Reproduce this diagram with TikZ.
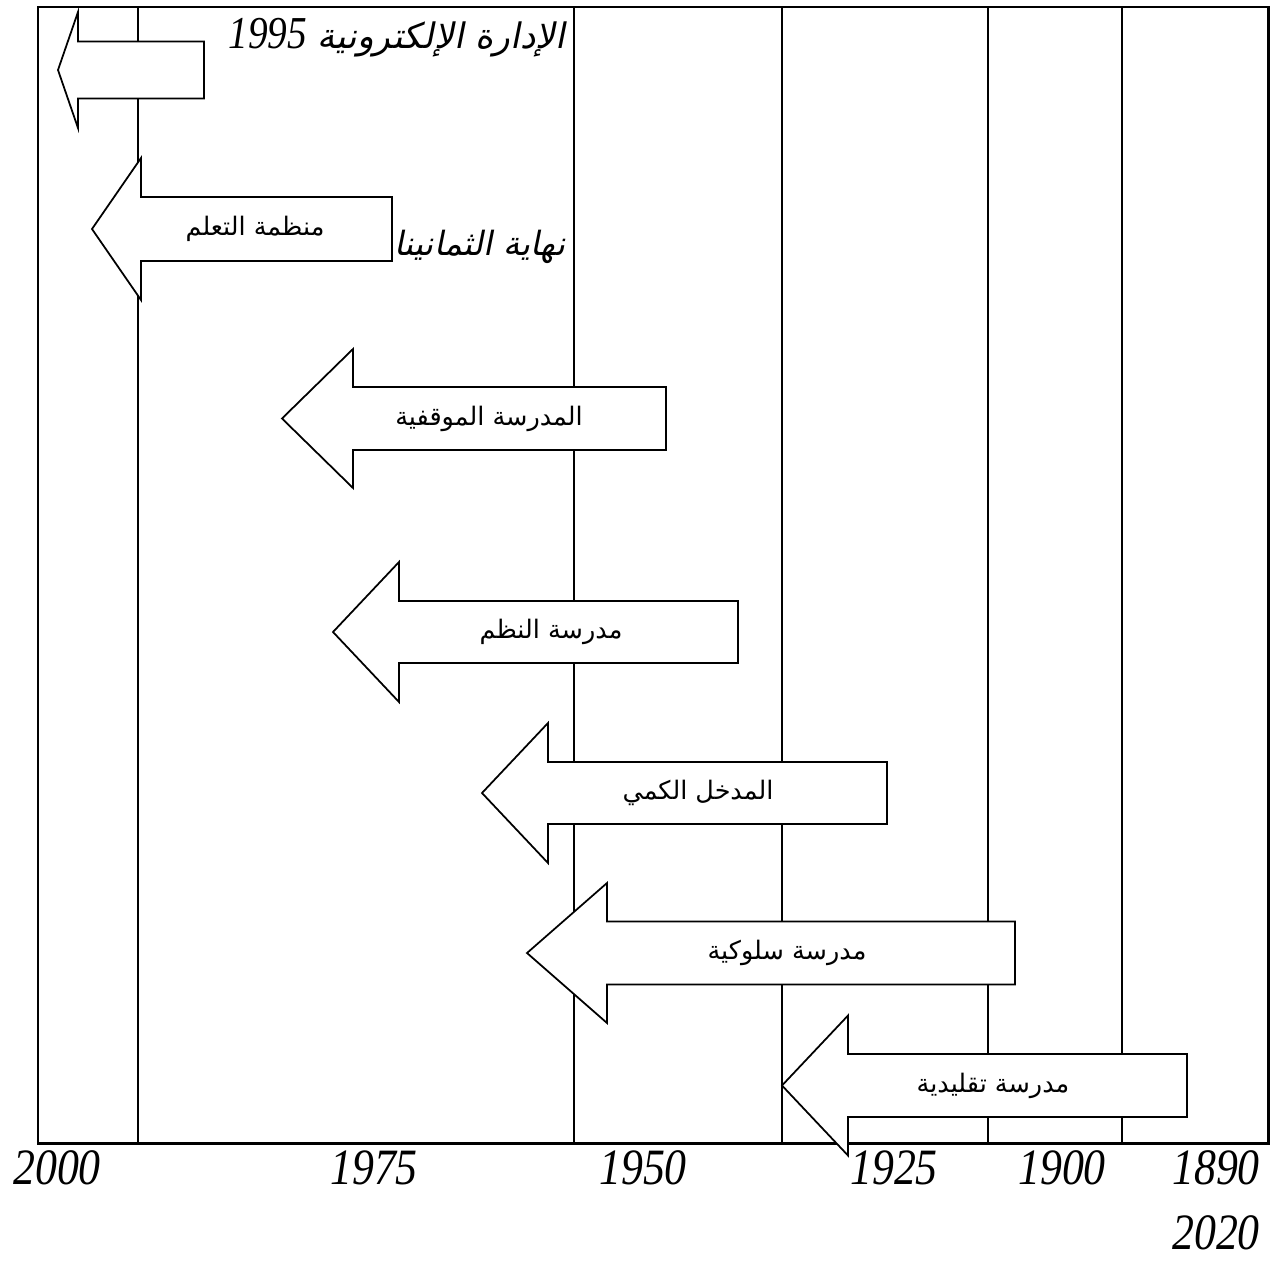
\documentclass[tikz,border=0pt]{standalone}
\usepackage{fontspec}
\TeXXeTstate=1
\newfontfamily\arabicfont[Script=Arabic]{DejaVu Sans}
\newfontfamily\arabicit[Script=Arabic,FakeSlant=0.2]{DejaVu Sans}
\newfontfamily\yearfont[FakeStretch=0.86]{Liberation Serif}
\tikzset{
  frameline/.style={line width=1.7pt},
  gridline/.style={line width=1.1pt},
  arrowbox/.style={draw=black, fill=white, line width=1pt, line join=miter},
  arrowlabel/.style={inner sep=0pt, font=\fontsize{14.5}{17}\selectfont\arabicfont},
  yearlabel/.style={inner sep=0pt, anchor=base, font=\fontsize{29}{34}\selectfont\yearfont\itshape},
  titlelabel/.style={inner sep=0pt, anchor=base east},
}
\newcommand\blkarrow[9]{%
  \draw[arrowbox] (#2,#5) -- (#3,#5-#6) -- (#3,#5-#7) -- (#4,#5-#7) -- (#4,#5+#7)
     -- (#3,#5+#7) -- (#3,#5+#6) -- cycle;
  \node[arrowlabel] (#1) at (#8,#5) {#9};
}
\begin{document}
\begin{tikzpicture}[x=0.02cm, y=-0.02cm]
\useasboundingbox (0,0) rectangle (1271,1261);
% frame and period lines
\draw[frameline] (38,7) rectangle (1268,1143);
\foreach \xx/\nm in {138/v1,574/v2,782/v3,988/v4,1122/v5}{
  \coordinate (\nm t) at (\xx,7);
  \coordinate (\nm b) at (\xx,1143);
  \draw[gridline] (\nm t) -- (\nm b);
}
% italic captions
\node[titlelabel] (t1995) at (566,49) {{\fontsize{26}{30}\selectfont\yearfont\itshape 1995}\hspace{6pt}{\fontsize{20}{24}\selectfont\arabicit\beginR الإدارة الإلكترونية\endR}};
\node[titlelabel] (t80s) at (566,255) {\fontsize{19}{23}\selectfont\arabicit\beginR نهاية الثمانينات\endR};
% block arrows
\blkarrow{a1}{58}{78}{204}{70}{58}{28.5}{141}{}
\blkarrow{a2}{92}{141}{392}{229}{71}{32}{255}{\beginR منظمة التعلم\endR}
\blkarrow{a3}{282}{353}{666}{418.5}{69.5}{31.5}{489}{\beginR المدرسة الموقفية\endR}
\blkarrow{a4}{333}{399}{738}{632}{70}{31}{551}{\beginR مدرسة النظم\endR}
\blkarrow{a5}{482}{548}{887}{793}{70}{31}{698}{\beginR المدخل الكمي\endR}
\blkarrow{a6}{527}{607}{1015}{953}{70}{31.5}{787}{\beginR مدرسة سلوكية\endR}
\blkarrow{a7}{782}{848}{1187}{1085.5}{70}{31.5}{993}{\beginR مدرسة تقليدية\endR}
% years
\node[yearlabel] (y2000) at (57,1184) {2000};
\node[yearlabel] (y1975) at (374,1184) {1975};
\node[yearlabel] (y1950) at (643,1184) {1950};
\node[yearlabel] (y1925) at (894,1184) {1925};
\node[yearlabel] (y1900) at (1062,1184) {1900};
\node[yearlabel] (y1890) at (1216,1184) {1890};
\node[yearlabel] (y2020) at (1216,1249) {2020};
\end{tikzpicture}
\end{document}
